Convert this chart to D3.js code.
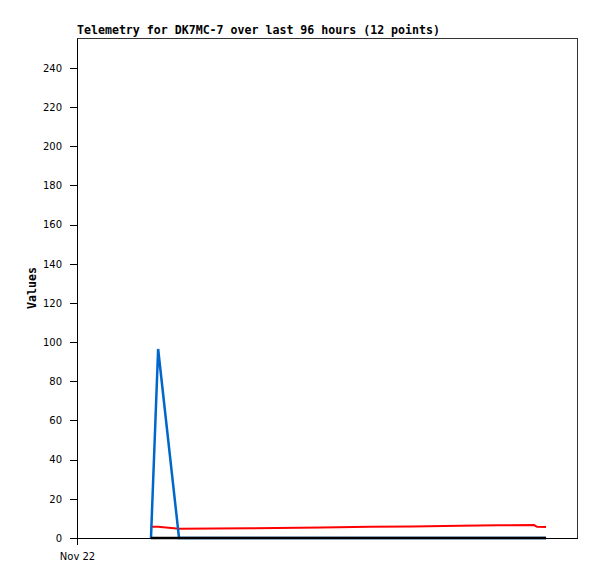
<!DOCTYPE html>
<html><head><meta charset="utf-8">
<script src="https://cdn.jsdelivr.net/npm/d3@7"></script>
<style>body{margin:0;background:#fff}</style>
</head><body>
<script>
const times = ["2023-11-22T17:56","2023-11-22T19:40","2023-11-23T00:44","2023-11-23T17:56","2023-11-24T11:23","2023-11-24T23:02","2023-11-25T09:13","2023-11-25T20:51","2023-11-26T06:04","2023-11-26T14:47","2023-11-26T15:31","2023-11-26T17:42"];
const redSeries   = [5.8, 5.7, 4.7, 5.0, 5.4, 5.7, 5.9, 6.2, 6.5, 6.6, 5.7, 5.6];
const blueSeries  = [0, 96.5, 0, 0, 0, 0, 0, 0, 0, 0, 0, 0];
const blackSeries = [0, 0, 0, 0, 0, 0, 0, 0, 0, 0, 0, 0];
const yTicks = [0,20,40,60,80,100,120,140,160,180,200,220,240];
const xTickLabels = ["Nov 22"];
const title = "Telemetry for DK7MC-7 over last 96 hours (12 points)";

const W=597,H=579, L=77,R=577,T=38,B=538;
const parse=d3.timeParse("%Y-%m-%dT%H:%M");
const dates=times.map(parse);
const x=d3.scaleTime().domain([parse("2023-11-22T00:00"),parse("2023-11-27T01:12")]).range([L,R]);
const y=d3.scaleLinear().domain([0,255.3]).range([B,T]);

const svg=d3.select("body").append("svg").attr("width",W).attr("height",H);
svg.append("rect").attr("x",L).attr("y",T).attr("width",R-L).attr("height",B-T)
  .attr("fill","none").attr("stroke","#333").attr("stroke-width",1).attr("shape-rendering","crispEdges");

const line=d3.line().x((d,i)=>x(dates[i])).y(d=>y(d));
const series=[[redSeries,"#ff0000",2],[blueSeries,"#0066cc",2.5],[blackSeries,"#000",2.5]];
series.forEach(([s,c,w])=>{
  svg.append("path").datum(s).attr("d",line).attr("fill","none").attr("stroke",c)
    .attr("stroke-width",w).attr("stroke-linejoin","miter");
});

const ya=d3.axisLeft(y).tickValues(yTicks).tickSize(7).tickSizeOuter(0).tickPadding(8);
const gy=svg.append("g").attr("transform",`translate(${L},0)`).call(ya);
gy.select(".domain").attr("stroke","#000").attr("shape-rendering","crispEdges");
gy.selectAll(".tick line").attr("shape-rendering","crispEdges");
gy.selectAll("text").attr("font-family","DejaVu Sans").attr("font-size",10).attr("fill","#000");

const xa=d3.axisBottom(x).tickValues([x.domain()[0]]).tickFormat((d,i)=>xTickLabels[i]).tickSize(7).tickSizeOuter(0).tickPadding(8);
const gx=svg.append("g").attr("transform",`translate(0,${B})`).call(xa);
gx.select(".domain").attr("stroke","#000").attr("shape-rendering","crispEdges");
gx.selectAll(".tick line").attr("shape-rendering","crispEdges");
gx.selectAll("text").attr("font-family","DejaVu Sans").attr("font-size",10).attr("fill","#000");

svg.append("text").attr("x",L).attr("y",34).text(title)
  .attr("font-family","DejaVu Sans Mono").attr("font-weight","bold").attr("font-size",11.6);
svg.append("text").attr("transform",`translate(36,${(T+B)/2}) rotate(-90)`).attr("text-anchor","middle")
  .text("Values").attr("font-family","DejaVu Sans Mono").attr("font-weight","bold").attr("font-size",11.6);
</script>
</body></html>
